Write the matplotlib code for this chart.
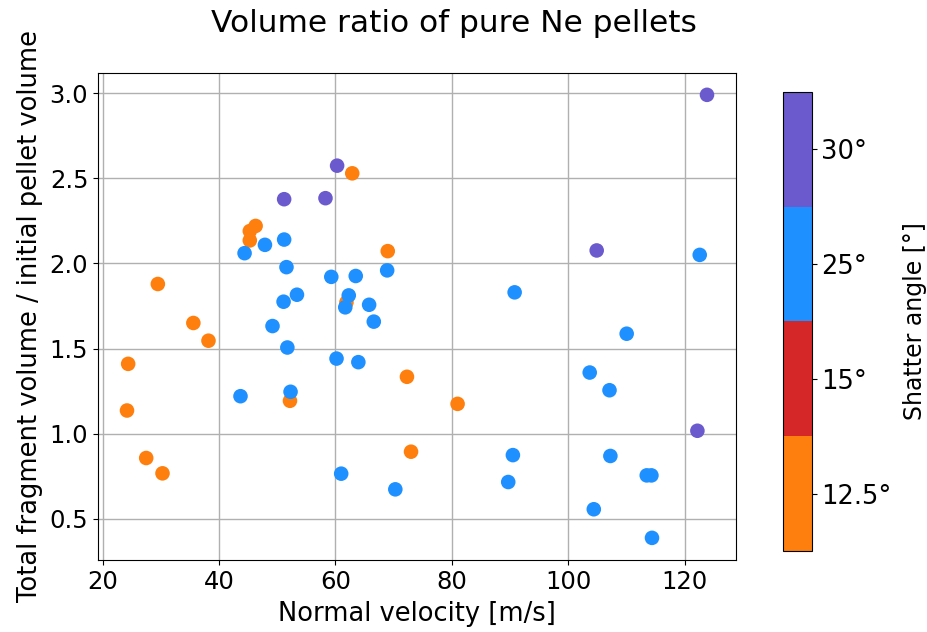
import matplotlib
matplotlib.use('Agg')
import matplotlib.pyplot as plt
import numpy as np
from matplotlib.colors import ListedColormap, BoundaryNorm

# angulos de disparo y colores de cada categoria
angulos = [12.5, 15, 25, 30]
colores = ['#ff7f0e', '#d62728', '#1e90ff', '#6a5acd']
etiquetas = ['12.5°', '15°', '25°', '30°']

# datos
vel_125 = [46.3, 45.3, 45.3, 29.5, 35.6, 38.2, 24.4, 24.2, 27.5, 30.3,
           52.2, 62.9, 69.0, 61.9, 72.3, 81.0, 73.0]
ratio_125 = [2.22, 2.19, 2.135, 1.879, 1.650, 1.546, 1.41, 1.136, 0.857, 0.767,
             1.193, 2.529, 2.072, 1.771, 1.334, 1.175, 0.894]

vel_25 = [47.9, 51.2, 44.4, 51.6, 53.4, 51.1, 49.2, 51.75, 43.7, 52.3,
          68.9, 59.3, 63.5, 62.3, 61.7, 65.8, 66.6, 60.2, 63.95, 61.0, 70.3,
          122.6, 90.8, 110.05, 103.7, 107.1, 90.5, 89.7, 107.25, 113.5, 114.3,
          104.4, 114.4]
ratio_25 = [2.109, 2.14, 2.06, 1.978, 1.816, 1.775, 1.632, 1.506, 1.22, 1.246,
            1.959, 1.921, 1.926, 1.812, 1.742, 1.757, 1.658, 1.441, 1.42, 0.765, 0.673,
            2.05, 1.83, 1.587, 1.359, 1.255, 0.874, 0.716, 0.869, 0.755, 0.755,
            0.556, 0.388]

vel_30 = [51.2, 60.3, 58.3, 123.85, 104.9, 122.2]
ratio_30 = [2.377, 2.574, 2.383, 2.99, 2.076, 1.017]

# junto todo
vel = np.array(vel_125 + vel_25 + vel_30)
ratio = np.array(ratio_125 + ratio_25 + ratio_30)
angulo = np.array([12.5]*len(vel_125) + [25]*len(vel_25) + [30]*len(vel_30))
indice = np.array([angulos.index(a) for a in angulo]) + 0.5

cmap = ListedColormap(colores)
norm = BoundaryNorm(np.arange(len(angulos) + 1), cmap.N)

plt.rcParams['font.size'] = 17.5

fig = plt.figure(figsize=(9.28, 6.32), dpi=100)
ax = fig.add_axes([0.1056, 0.1139, 0.6875, 0.7711])
sc = ax.scatter(vel, ratio, c=indice, cmap=cmap, norm=norm, s=110,
                linewidths=0, zorder=3)
ax.grid(True, color='#b0b0b0', linewidth=1)
ax.set_axisbelow(True)
ax.set_xlabel('Normal velocity [m/s]', fontsize=18.5, labelpad=5)
ax.set_ylabel('Total fragment volume / initial pellet volume', fontsize=18.5, labelpad=5)
ax.set_yticks([0.5, 1.0, 1.5, 2.0, 2.5, 3.0])
fig.suptitle('Volume ratio of pure Ne pellets', fontsize=22.5, x=0.489, y=0.985)

cax = fig.add_axes([0.844, 0.128, 0.0306, 0.727])
cb = fig.colorbar(sc, cax=cax, ticks=np.arange(len(angulos)) + 0.5)
cb.ax.minorticks_off()
cb.ax.set_yticklabels(etiquetas, fontsize=18.5)
cb.set_label('Shatter angle [°]', fontsize=17, labelpad=8)

fig.savefig('out.png', dpi=100)
